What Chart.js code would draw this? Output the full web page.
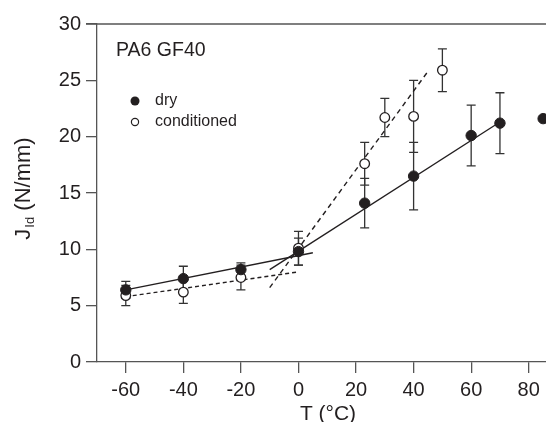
<!DOCTYPE html>
<html>
<head>
<meta charset="utf-8">
<script src="https://cdn.jsdelivr.net/npm/chart.js@4.4.1/dist/chart.umd.min.js"></script>
<style>
  html, body { margin: 0; padding: 0; background: #fff; overflow: hidden; }
</style>
</head>
<body>
<canvas id="myChart" width="546" height="422"></canvas>
<script>
const dryTemps = [-60, -40, -20, 0, 23, 40, 60, 70, 85];
const dryJ     = [6.4, 7.4, 8.2, 9.8, 14.1, 16.5, 20.1, 21.2, 21.6];
const dryErr   = [0.75, 1.1, 0.6, 1.2, 2.2, 3.0, 2.7, 2.7, 0];

const condTemps = [-60, -40, -20, 0, 23, 30, 40, 50];
const condJ     = [5.9, 6.2, 7.5, 10.1, 17.6, 21.7, 21.8, 25.9];
const condErr   = [0.9, 1.0, 1.1, 1.5, 1.9, 1.7, 3.2, 1.9];

// fitted lines: [x, y] end points
const dryFitLow   = [[-60, 6.4], [5, 9.7]];
const dryFitHigh  = [[-10, 8.2], [70, 21.3]];
const condFitLow  = [[-60, 5.8], [0, 8.0]];
const condFitHigh = [[-10, 6.6], [45, 25.8]];

const xTicks = [-60, -40, -20, 0, 20, 40, 60, 80];

const ink = '#231f20';
const axisColor = '#555';
const fontFamily = '"Liberation Sans", Arial, sans-serif';

const toPoints = (xs, ys) => xs.map((x, i) => ({ x: x, y: ys[i] }));
const fitPoints = pairs => pairs.map(p => ({ x: p[0], y: p[1] }));

const errorBars = {
  id: 'errorBars',
  beforeDatasetsDraw(chart) {
    const ctx = chart.ctx;
    const xs = chart.scales.x, ys = chart.scales.y;
    const sets = [[dryTemps, dryJ, dryErr], [condTemps, condJ, condErr]];
    ctx.save();
    ctx.strokeStyle = '#333';
    ctx.lineWidth = 1.3;
    sets.forEach(s => {
      s[0].forEach((t, i) => {
        const e = s[2][i];
        if (!e) return;
        const px = xs.getPixelForValue(t);
        const top = ys.getPixelForValue(s[1][i] + e);
        const bot = ys.getPixelForValue(s[1][i] - e);
        ctx.beginPath();
        ctx.moveTo(px, top); ctx.lineTo(px, bot);
        ctx.moveTo(px - 4.5, top); ctx.lineTo(px + 4.5, top);
        ctx.moveTo(px - 4.5, bot); ctx.lineTo(px + 4.5, bot);
        ctx.stroke();
      });
    });
    ctx.restore();
  },
  afterDraw(chart) {
    const ctx = chart.ctx;
    const area = chart.chartArea;
    ctx.save();
    // top frame line
    ctx.strokeStyle = axisColor;
    ctx.lineWidth = 1.3;
    ctx.beginPath();
    ctx.moveTo(86, area.top);
    ctx.lineTo(chart.width, area.top);
    ctx.stroke();

    ctx.fillStyle = ink;
    ctx.textBaseline = 'alphabetic';
    ctx.textAlign = 'left';
    ctx.font = '19.5px ' + fontFamily;
    ctx.fillText('PA6 GF40', 116, 56);

    // legend
    ctx.font = '16px ' + fontFamily;
    ctx.textBaseline = 'middle';
    ctx.beginPath();
    ctx.arc(135, 101, 4.5, 0, Math.PI * 2);
    ctx.fill();
    ctx.fillText('dry', 155, 101);
    ctx.beginPath();
    ctx.arc(135, 122, 3.6, 0, Math.PI * 2);
    ctx.lineWidth = 1.2;
    ctx.strokeStyle = ink;
    ctx.stroke();
    ctx.fillText('conditioned', 155, 122);

    // x title
    ctx.textAlign = 'center';
    ctx.textBaseline = 'alphabetic';
    ctx.font = '21px ' + fontFamily;
    ctx.fillText('T (°C)', 328, 420);

    // y title with subscript
    ctx.translate(30, 189);
    ctx.rotate(-Math.PI / 2);
    const big = '22px ' + fontFamily, small = '13px ' + fontFamily;
    ctx.font = big;
    const wJ = ctx.measureText('J').width;
    const wRest = ctx.measureText(' (N/mm)').width;
    ctx.font = small;
    const wSub = ctx.measureText('Id').width;
    let x0 = -(wJ + wSub + wRest) / 2;
    ctx.textAlign = 'left';
    ctx.font = big;
    ctx.fillText('J', x0, 0);
    ctx.font = small;
    ctx.fillText('Id', x0 + wJ + 1, 4);
    ctx.font = big;
    ctx.fillText(' (N/mm)', x0 + wJ + wSub + 1, 0);
    ctx.restore();
  }
};

const data = {
  datasets: [
    {
      label: 'dry',
      data: toPoints(dryTemps, dryJ),
      pointRadius: 5.2,
      pointBackgroundColor: ink,
      pointBorderColor: ink,
      pointBorderWidth: 1,
      showLine: false,
      clip: false
    },
    {
      label: 'conditioned',
      data: toPoints(condTemps, condJ),
      pointRadius: 4.8,
      pointBackgroundColor: '#fff',
      pointBorderColor: ink,
      pointBorderWidth: 1.3,
      showLine: false
    },
    {
      label: 'dry fit low',
      data: fitPoints(dryFitLow),
      showLine: true, pointRadius: 0,
      borderColor: ink, borderWidth: 1.4
    },
    {
      label: 'dry fit high',
      data: fitPoints(dryFitHigh),
      showLine: true, pointRadius: 0,
      borderColor: ink, borderWidth: 1.4
    },
    {
      label: 'cond fit low',
      data: fitPoints(condFitLow),
      showLine: true, pointRadius: 0,
      borderColor: ink, borderWidth: 1.4, borderDash: [4, 3]
    },
    {
      label: 'cond fit high',
      data: fitPoints(condFitHigh),
      showLine: true, pointRadius: 0,
      borderColor: ink, borderWidth: 1.4, borderDash: [5, 4]
    }
  ]
};

const config = {
  type: 'scatter',
  data: data,
  plugins: [errorBars],
  options: {
    responsive: false,
    animation: false,
    events: [],
    layout: { autoPadding: false, padding: { top: 24, right: 0, left: 0, bottom: 0 } },
    plugins: { legend: { display: false }, tooltip: { enabled: false } },
    scales: {
      x: {
        type: 'linear',
        min: -70,
        max: 86,
        afterBuildTicks: scale => { scale.ticks = xTicks.map(v => ({ value: v })); },
        afterFit: scale => { scale.height = 60; scale.paddingRight = 0; scale.paddingLeft = 0; },
        grid: { drawOnChartArea: false, drawTicks: true, tickLength: 11, color: axisColor, lineWidth: 1.3 },
        border: { display: true, color: axisColor, width: 1.3 },
        ticks: { color: ink, padding: 5, maxRotation: 0, font: { size: 20, family: fontFamily } }
      },
      y: {
        min: 0,
        max: 30,
        afterFit: scale => { scale.width = 97; scale.paddingTop = 0; scale.paddingBottom = 0; },
        grid: { drawOnChartArea: false, drawTicks: true, tickLength: 11, color: axisColor, lineWidth: 1.3 },
        border: { display: true, color: axisColor, width: 1.3 },
        ticks: { stepSize: 5, color: ink, padding: 5, font: { size: 20, family: fontFamily } }
      }
    }
  }
};

const myChart = new Chart(document.getElementById('myChart'), config);
</script>
</body>
</html>
